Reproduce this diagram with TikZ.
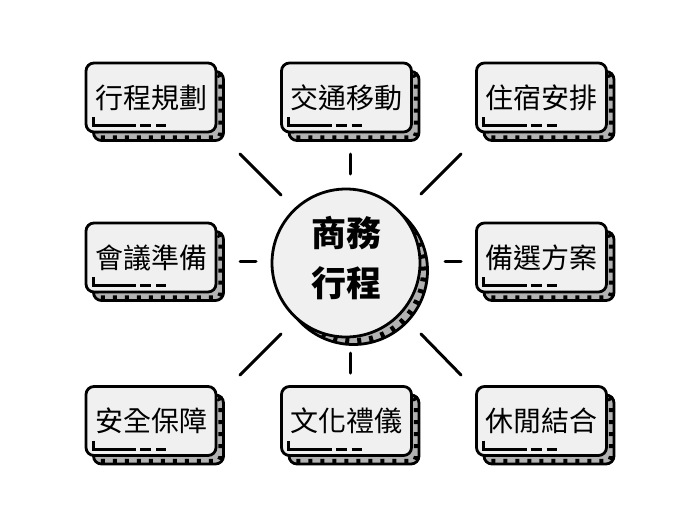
\documentclass[tikz,border=0pt]{standalone}
\usepackage{fontspec}
\newfontfamily\cjk{Noto Sans CJK TC}
\usetikzlibrary{calc}
\definecolor{facegray}{HTML}{F0F0F0}
\definecolor{edgegray}{HTML}{B2B2B2}

\begin{document}
\begin{tikzpicture}[x=1pt, y=-1pt,
    face/.style={draw=black, fill=facegray, line width=2.8pt, rounded corners=8pt, minimum width=130pt, minimum height=69pt, inner sep=0pt},
    back/.style={face, fill=edgegray},
    stripe/.style={draw=black, line width=6pt, rounded corners=5pt, dash pattern=on 4pt off 8pt},
    ray/.style={line width=3pt, line cap=round},
    underbar/.style={line width=3pt}]
    \useasboundingbox (0,0) rectangle (700,525);
    \foreach \nm/\x/\y/\txt in {plan/151/97.5/行程規劃, move/346.5/97.5/交通移動, stay/541.5/97.5/住宿安排,
            meet/151/257.5/會議準備, spare/541.5/257.5/備選方案,
            safe/151/421/安全保障, etiq/346.5/421/文化禮儀, leis/541.5/421/休閒結合}{
        \node[back] (\nm b) at (\x+7.5,\y+8.5) {};
        \draw[stripe] ($(\nm b.south west)+(3.5,-3.5)$) rectangle ($(\nm b.north east)+(-3.5,3.5)$);
        \node[face, font=\cjk\fontsize{28}{30}\selectfont] (\nm) at (\x,\y) {\txt};
        \draw[underbar] ($(\nm)+(-58,19.5)$) -- ($(\nm)+(-58,28)$) -- ($(\nm)+(-15,28)$);
        \draw[underbar] ($(\nm)+(-11,28)$) -- ($(\nm)+(0,28)$);
        \draw[underbar] ($(\nm)+(5,28)$) -- ($(\nm)+(15,28)$);
    }
    \node[circle, back, minimum size=148pt] (hubb) at (353.5,270.5) {};
    \draw[stripe] (hubb.center) circle (70.5pt);
    \node[circle, face, minimum size=148pt, align=center, font=\cjk\bfseries\fontsize{35}{50}\selectfont] (hub) at (346,263) {商務\\行程\rule[-14pt]{0pt}{0pt}};
    \draw[ray] (240,154) -- (281,195);
    \draw[ray] (350,154) -- (350,174);
    \draw[ray] (421,194) -- (461,154);
    \draw[ray] (240,261) -- (256,261);
    \draw[ray] (445,261) -- (461,261);
    \draw[ray] (240,375) -- (281,334);
    \draw[ray] (350,353) -- (350,373);
    \draw[ray] (421,334) -- (461,375);
\end{tikzpicture}
\end{document}
